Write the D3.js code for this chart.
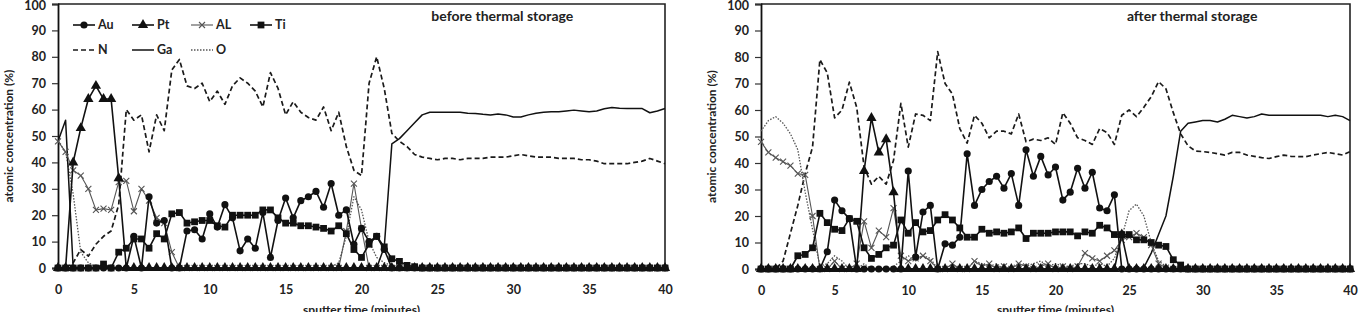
<!DOCTYPE html>
<html>
<head>
<meta charset="utf-8">
<style>
body { margin: 0; background: #fff; }
svg text { font-family: Lato, "Open Sans", sans-serif; font-weight: bold; fill: #222; }
</style>
</head>
<body>
<svg width="1372" height="312"></svg>
<script src="https://d3js.org/d3.v7.min.js"></script>
<script>
// sputter time, minutes (one reading every half minute)
var times = [0,0.5,1,1.5,2,2.5,3,3.5,4,4.5,
  5,5.5,6,6.5,7,7.5,8,8.5,9,9.5,
  10,10.5,11,11.5,12,12.5,13,13.5,14,14.5,
  15,15.5,16,16.5,17,17.5,18,18.5,19,19.5,
  20,20.5,21,21.5,22,22.5,23,23.5,24,24.5,
  25,25.5,26,26.5,27,27.5,28,28.5,29,29.5,
  30,30.5,31,31.5,32,32.5,33,33.5,34,34.5,
  35,35.5,36,36.5,37,37.5,38,38.5,39,39.5,
  40];
var xTicks = [0,5,10,15,20,25,30,35,40];
var yTicks = [0,10,20,30,40,50,60,70,80,90,100];
var elements = ["Au","Pt","AL","Ti","N","Ga","O"];
var titles = ["before thermal storage","after thermal storage"];

// ---- before thermal storage ----
var beforeAu = [0,0,0,0,0,0,0,0,0,0,
  12,0,27,17,18,0,0,14,14.5,11,
  20.5,15.5,24,19,6.5,11,7.5,21,4,18,
  26.5,19,25.5,27,29,23,32,20,22,9,
  15,10,12,7,0,0,0,0,0,0,
  0,0,0,0,0,0,0,0,0,0,
  0,0,0,0,0,0,0,0,0,0,
  0,0,0,0,0,0,0,0,0,0,
  0];
var beforePt = [0,0,40,53,64,69,64,64,34,0,
  0,0,0,0,0,0,0,0,0,0,
  0,0,0,0,0,0,0,0,0,0,
  0,0,0,0,0,0,0,0,0,0,
  0,0,0,0,0,0,0,0,0,0,
  0,0,0,0,0,0,0,0,0,0,
  0,0,0,0,0,0,0,0,0,0,
  0,0,0,0,0,0,0,0,0,0,
  0];
var beforeAL = [48,44,37,35,30,22,22.5,22,32.5,33,
  21.5,30,25.5,19,17,6,0,0,0,0,
  0,0,0,0,0,0,0,0,0,0,
  0,0,0,0,0,0,0,0,14,32,
  15,0,0,0,0,0,0,0,0,0,
  0,0,0,0,0,0,0,0,0,0,
  0,0,0,0,0,0,0,0,0,0,
  0,0,0,0,0,0,0,0,0,0,
  0];
var beforeTi = [0,0,0,0,0,0,1.5,0,6,7.5,
  11,11,7.5,13,11,20.5,21,17,17.5,18,
  18,16,15.5,20,20,20,20,22,22,19,
  17,17,16,16,15.5,15,14,16,13,7,
  4,9,12,8,3.5,2.5,1,0.5,0,0,
  0,0,0,0,0,0,0,0,0,0,
  0,0,0,0,0,0,0,0,0,0,
  0,0,0,0,0,0,0,0,0,0,
  0];
var beforeN = [0,0,2,7,4.5,9,12,14,24,60,
  56,58,44,58,52,75,79,69,68,70,
  63,67,62,69,72,70,67,61,74,68,
  58,63,59,57,56,61,52,59,46,37,
  35,70,80,68,51,48,46,43,42,41.5,
  41,41.5,41.5,41,41.5,41.5,41.5,42,42,42,
  42.5,43,42.5,42,42,42,41.5,41.5,41.5,41,
  41,40.5,39.5,39.5,39.5,39.5,40,40.5,41.5,40.5,
  39.5];
var beforeGa = [48,56,0,0,0,0,0,0,0,0,
  0,0,0,0,0,0,0,0,0,0,
  0,0,0,0,0,0,0,0,0,0,
  0,0,0,0,0,0,0,0,0,0,
  0,0,0,8,47,49,52,55,58,59,
  59,59,59,59,58.6,58.5,58.2,58,58.3,58,
  57.2,57.2,58,58.6,59,59.2,59.2,59.5,59.8,59.5,
  59.2,59.5,60.3,60.8,60.5,60.4,60.4,60.4,58.8,59.5,
  60.4];
var beforeO = [48,44,28,6,2,0.5,0,0,0,0,
  0,0,0,0,0,0,0,0,0,0,
  0,0,0,0,0,0,0,0,0,0,
  0,0,0,0,0,0,0.5,2,12,27,
  22,10,4,2,1,0.5,0,0,0,0,
  0,0,0,0,0,0,0,0,0,0,
  0,0,0,0,0,0,0,0,0,0,
  0,0,0,0,0,0,0,0,0,0,
  0];

// ---- after thermal storage ----
var afterAu = [0,0,0,0,0,0,0,0,0,6.5,
  26,22,19,0,0,0,0,0,0,0,
  37,4.5,21.5,24,0,9.5,9,12,43.5,24,
  30,33,35,30.5,36,24,45,35,42.5,35.5,
  38.5,26,29,38,30.5,36.5,23,22,28,0,
  0,0,0,0,0,0,0,0,0,0,
  0,0,0,0,0,0,0,0,0,0,
  0,0,0,0,0,0,0,0,0,0,
  0];
var afterPt = [0,0,0,0,0,0,0,0,0,0,
  0,0,0,0,37,57,44,49,29,0,
  0,0,0,0,0,0,0,0,0,0,
  0,0,0,0,0,0,0,0,0,0,
  0,0,0,0,0,0,0,0,0,13,
  0,0,0,0,0,0,0,0,0,0,
  0,0,0,0,0,0,0,0,0,0,
  0,0,0,0,0,0,0,0,0,0,
  0];
var afterAL = [48,44,42,40.5,39,36,35.5,20,0,0,
  3,0,0,2,18,8,14.5,12,23,5,
  3,4,5,3,0,0,2,0,0,3,
  1,2,0,1,0,2,1,0,1,2,
  0,1,0,1,6,4,3,5,7,11,
  12,13.5,12,9,2,0.5,0,0,0,0,
  0,0,0,0,0,0,0,0,0,0,
  0,0,0,0,0,0,0,0,0,0,
  0];
var afterTi = [0,0,0,0,0,5,5.5,8,21,17.5,
  15,14.5,19,18,8,4,5.5,8,9,18.5,
  13.5,17.5,14,14.5,18.5,20.5,18.5,15.5,12,12,
  15,13.5,14,13.5,14,15.5,11.5,13.5,13.5,13.5,
  14,14,14,12.5,14,13.5,16.5,15.5,13,13,
  13,11,11,10,9,8.5,3.5,1.5,0,0,
  0,0,0,0,0,0,0,0,0,0,
  0,0,0,0,0,0,0,0,0,0,
  0];
var afterN = [0,0,0,3,13.5,24,36,46,79,74,
  57,60,70.5,61,38.5,32,35,32,41,62.5,
  46,58.5,58,56,82,70,66,53,47.5,58,
  55,49.5,52,52,51,58.5,48,49,48.5,49.5,
  47,59,55,49.5,48.5,47,53,51.5,47,58,
  60,57.5,61,65,70.7,68,59,51,46.5,44.5,
  44.3,44,43.5,43,44,44,43,42.5,42,41.7,
  42.4,43,42.5,42.4,42.4,43,43.5,44,43.5,43,
  44.3];
var afterGa = [0,0,0,0,0,0,0,0,0,0,
  0,0,0,0,0,0,0,0,0,0,
  0,0,0,0,0,0,0,0,0,0,
  0,0,0,0,0,0,0,0,0,0,
  0,0,0,0,0,0,0,0,0,0,
  0,0,0.5,6,13,20,35,52,55,55.5,
  56,56,55.5,56.5,58,57.5,57,57.5,58.5,58,
  58,58,58,58,58,58,58,57.5,58,57.5,
  56];
var afterO = [52,56,57.5,55,51,45,29,15,1,2,
  5,3,0,0,2,0,0,0,1,3,
  5,3,5,4,0,0,0,1,0,3,
  2,1,2,0,1,2,1,2,3,1,
  2,1,1,2,2,1,2,1,4,12,
  22,24.5,20,10,3,1,0,0,0,0,
  0,0,0,0,0,0,0,0,0,0,
  0,0,0,0,0,0,0,0,0,0,
  0];

var svg = d3.select("svg");

// look of each element's trace
var look = {
  Au: {marker: "circle",   color: "#111", width: 1.6, dash: null},
  Pt: {marker: "triangle", color: "#111", width: 1.6, dash: null},
  AL: {marker: "x",        color: "#555", width: 1.1, dash: null},
  Ti: {marker: "square",   color: "#111", width: 1.6, dash: null},
  N:  {marker: null,       color: "#1a1a1a", width: 1.7, dash: "5,3"},
  Ga: {marker: null,       color: "#111", width: 1.5, dash: null},
  O:  {marker: null,       color: "#555", width: 1.3, dash: "1.5,1.5"}
};

function marker(g, kind, color) {
  if (kind === "x") {
    g.append("path").attr("d", "M-3,-3L3,3M-3,3L3,-3")
      .attr("stroke", color).attr("stroke-width", 1.1).attr("fill", "none");
  } else {
    var type = {circle: d3.symbolCircle, triangle: d3.symbolTriangle, square: d3.symbolSquare}[kind];
    var size = {circle: 40, triangle: 46, square: 46}[kind];
    g.append("path").attr("d", d3.symbol().type(type).size(size)()).attr("fill", color);
  }
}

function drawPanel(left, right, bottom, title, series, withLegend) {
  var x = d3.scaleLinear().domain([0, 40]).range([left, right]);
  var y = d3.scaleLinear().domain([0, 100]).range([bottom, 4]);
  var g = svg.append("g");

  // frame (top and right edges)
  g.append("path")
    .attr("d", "M" + left + "," + y(100) + "H" + right + "V" + bottom)
    .attr("fill", "none").attr("stroke", "#222").attr("stroke-width", 1.6);

  var yAxis = g.append("g")
    .attr("transform", "translate(" + left + ",0)")
    .call(d3.axisLeft(y).tickValues(yTicks).tickSize(6).tickPadding(6));
  var xAxis = g.append("g")
    .attr("transform", "translate(0," + bottom + ")")
    .call(d3.axisBottom(x).tickValues(xTicks).tickSize(0).tickPadding(17));
  [yAxis, xAxis].forEach(function(a) {
    a.select(".domain").attr("stroke", "#111").attr("stroke-width", 1.8);
    a.selectAll(".tick line").attr("stroke", "#333").attr("stroke-width", 1.2);
    a.selectAll("text").attr("font-size", 12.5).attr("fill", "#222");
  });
  // keep the top label inside the picture
  yAxis.selectAll(".tick text").filter(function(d) { return d === 100; }).attr("dy", "0.45em");

  g.append("text")
    .attr("transform", "translate(" + (left - 49) + "," + ((bottom + 4) / 2) + ") rotate(-90)")
    .attr("text-anchor", "middle").attr("dy", "0.35em").attr("font-size", 12)
    .text("atomic concentration (%)");
  g.append("text")
    .attr("x", (left + right) / 2).attr("y", 314)
    .attr("text-anchor", "middle").attr("font-size", 12)
    .text("sputter time (minutes)");
  g.append("text")
    .attr("x", left + (right - left) * 0.732).attr("y", 21)
    .attr("text-anchor", "middle").attr("font-size", 14)
    .text(title);

  var line = d3.line()
    .x(function(d) { return x(d[0]); })
    .y(function(d) { return y(d[1]); });

  ["N", "O", "Ga", "AL", "Ti", "Pt", "Au"].forEach(function(name) {
    var s = look[name];
    var pts = times.map(function(t, i) { return [t, series[name][i]]; });
    g.append("path").datum(pts)
      .attr("d", line).attr("fill", "none")
      .attr("stroke", s.color).attr("stroke-width", s.width)
      .attr("stroke-dasharray", s.dash)
      .attr("stroke-linejoin", "round");
    if (s.marker) {
      g.append("g").selectAll("g").data(pts).enter().append("g")
        .attr("transform", function(d) { return "translate(" + x(d[0]) + "," + y(d[1]) + ")"; })
        .each(function() { marker(d3.select(this), s.marker, s.color); });
    }
  });

  if (withLegend) {
    var lg = g.append("g").attr("font-size", 12.5);
    elements.forEach(function(name, i) {
      var s = look[name];
      var row = i < 4 ? 0 : 1, col = i < 4 ? i : i - 4;
      var lx = left + 15 + col * 59, ly = 25 + row * 25;
      lg.append("line")
        .attr("x1", lx).attr("x2", lx + 22).attr("y1", ly).attr("y2", ly)
        .attr("stroke", s.color).attr("stroke-width", s.width)
        .attr("stroke-dasharray", s.dash);
      if (s.marker) {
        var m = lg.append("g").attr("transform", "translate(" + (lx + 11) + "," + ly + ")");
        marker(m, s.marker, s.color);
      }
      lg.append("text").attr("x", lx + 25).attr("y", ly).attr("dy", "0.35em")
        .text(name);
    });
  }
}

drawPanel(58, 665, 268, titles[0],
  {Au: beforeAu, Pt: beforePt, AL: beforeAL, Ti: beforeTi, N: beforeN, Ga: beforeGa, O: beforeO}, true);
drawPanel(761, 1350, 269, titles[1],
  {Au: afterAu, Pt: afterPt, AL: afterAL, Ti: afterTi, N: afterN, Ga: afterGa, O: afterO}, false);
</script>
</body>
</html>
